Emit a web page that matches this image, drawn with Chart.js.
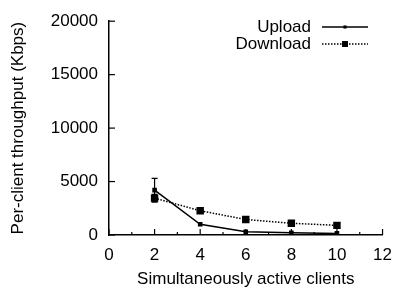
<!DOCTYPE html>
<html>
<head>
<meta charset="utf-8">
<script src="https://cdn.jsdelivr.net/npm/chart.js@4/dist/chart.umd.min.js"></script>
<style>
  html, body { margin: 0; padding: 0; background: #fff; }
  #wrap { width: 402px; height: 288px; }
</style>
</head>
<body>
<div id="wrap"><canvas id="tputChart"></canvas></div>
<script>
// valores
var clients = [2, 4, 6, 8, 10];
var uploadKbps = [4200, 1000, 300, 200, 150];
var downloadKbps = [3450, 2270, 1450, 1100, 900];
var uploadErr = [1100, 40, 20, 15, 15];
var downloadErr = [350, 40, 30, 25, 25];
var xTickStep = 2, xMinorStep = 1, xMax = 12;
var yTickStep = 5000, yMax = 20000;

var FONT = "'Liberation Sans', Arial, Helvetica, sans-serif";

function points(ys) {
    return clients.map(function (c, i) { return { x: c, y: ys[i] }; });
}

// ticks internos, barras de erro e legenda
var extras = {
    id: 'extras',
    afterDatasetsDraw: function (chart) {
        var ctx = chart.ctx, xs = chart.scales.x, ys = chart.scales.y;
        ctx.save();
        ctx.strokeStyle = '#000';
        ctx.lineWidth = 1.2;
        // barras de erro
        [[uploadKbps, uploadErr], [downloadKbps, downloadErr]].forEach(function (s) {
            clients.forEach(function (c, i) {
                var px = xs.getPixelForValue(c);
                var lo = ys.getPixelForValue(s[0][i] - s[1][i]);
                var hi = ys.getPixelForValue(s[0][i] + s[1][i]);
                if (Math.abs(lo - hi) < 3) return;
                ctx.beginPath();
                ctx.moveTo(px, lo); ctx.lineTo(px, hi);
                ctx.moveTo(px - 3, lo); ctx.lineTo(px + 3, lo);
                ctx.moveTo(px - 3, hi); ctx.lineTo(px + 3, hi);
                ctx.stroke();
            });
        });
        // ticks do eixo x
        var base = ys.getPixelForValue(0);
        for (var v = 0; v <= xMax; v += xMinorStep) {
            var px = xs.getPixelForValue(v);
            var len = (v % xTickStep === 0) ? 6 : 3;
            ctx.beginPath();
            ctx.moveTo(px, base); ctx.lineTo(px, base - len);
            ctx.stroke();
        }
        // ticks do eixo y
        var left = xs.getPixelForValue(0);
        for (var w = 0; w <= yMax; w += yTickStep) {
            var py = ys.getPixelForValue(w);
            ctx.beginPath();
            ctx.moveTo(left, py); ctx.lineTo(left + 6, py);
            ctx.stroke();
        }
        // legenda
        ctx.font = '17px ' + FONT;
        ctx.textAlign = 'right';
        ctx.textBaseline = 'middle';
        ctx.fillStyle = '#000';
        chart.data.datasets.forEach(function (ds, i) {
            var y = 27 + i * 17;
            ctx.fillText(ds.label, 311, y);
            ctx.beginPath();
            ctx.setLineDash(ds.borderDash || []);
            ctx.lineWidth = ds.borderWidth;
            ctx.moveTo(322, y); ctx.lineTo(368, y);
            ctx.stroke();
            ctx.setLineDash([]);
            var h = ds.pointRadius / Math.SQRT2;
            ctx.fillRect(345 - h, y - h, 2 * h, 2 * h);
        });
        ctx.restore();
    }
};

var ctx = document.getElementById('tputChart').getContext('2d');
var tputChart = new Chart(ctx, {
    type: 'line',
    data: {
        datasets: [{
            label: 'Upload',
            data: points(uploadKbps),
            borderColor: '#000',
            backgroundColor: '#000',
            borderWidth: 1.5,
            pointStyle: 'rect',
            pointRadius: 2.2,
            fill: false,
            tension: 0
        }, {
            label: 'Download',
            data: points(downloadKbps),
            borderColor: '#000',
            backgroundColor: '#000',
            borderWidth: 1.5,
            borderDash: [1.5, 1.5],
            pointStyle: 'rect',
            pointRadius: 4.2,
            fill: false,
            tension: 0
        }]
    },
    options: {
        responsive: true,
        maintainAspectRatio: false,
        animation: false,
        layout: { padding: { top: 15, right: 12, left: 0, bottom: 0 } },
        plugins: {
            legend: { display: false },
            tooltip: { enabled: false }
        },
        scales: {
            x: {
                type: 'linear',
                min: 0,
                max: xMax,
                grid: { display: false, drawTicks: false },
                border: { display: true, color: '#000', width: 1.5 },
                ticks: {
                    stepSize: xTickStep, color: '#000', padding: 10,
                    font: { family: FONT, size: 17 },
                    callback: function (v) { return String(v); }
                },
                title: {
                    display: true,
                    text: 'Simultaneously active clients',
                    color: '#000',
                    font: { family: FONT, size: 17, lineHeight: 1 },
                    padding: { top: 0, bottom: 0 }
                },
                afterFit: function (s) { s.height = 53; }
            },
            y: {
                min: 0,
                max: yMax,
                grid: { display: false, drawTicks: false },
                border: { display: true, color: '#000', width: 1.5 },
                ticks: {
                    stepSize: yTickStep, color: '#000', padding: 11,
                    font: { family: FONT, size: 17 },
                    callback: function (v) { return String(v); }
                },
                title: {
                    display: true,
                    text: 'Per-client throughput (Kbps)',
                    color: '#000',
                    font: { family: FONT, size: 17 },
                    padding: { top: 8, bottom: 0 }
                },
                afterFit: function (s) { s.width = 109; }
            }
        }
    },
    plugins: [extras]
});
</script>
</body>
</html>
